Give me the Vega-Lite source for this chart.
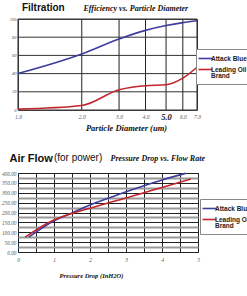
{
  "$schema": "https://vega.github.io/schema/vega-lite/v6.json",
  "background": "white",
  "padding": {"left": 0, "top": 2, "right": 0, "bottom": 0},
  "spacing": 20,
  "title": {"text": "Filtration", "anchor": "start", "font": "Liberation Sans", "fontWeight": "bold", "fontSize": 10, "color": "#111", "dx": 21, "offset": -9},
  "config": {
    "view": {"stroke": "#444", "strokeWidth": 1},
    "axis": {"grid": true, "gridColor": "#222", "gridOpacity": 1, "gridWidth": 1, "domain": false, "ticks": false, "tickSize": 0, "labelColor": "#555", "labelFont": "Liberation Serif", "labelFontStyle": "italic", "titleFont": "Liberation Serif", "titleFontStyle": "italic", "titleFontWeight": "bold", "titleColor": "#111"},
    "legend": {"title": null, "orient": "none", "symbolType": "M-2,0H2", "symbolSize": 49, "symbolStrokeWidth": 1.6, "labelFont": "Liberation Sans", "labelFontWeight": "bold", "labelFontSize": 6.5, "labelColor": "#222", "labelBaseline": "middle", "strokeColor": "#888", "fillColor": "white", "padding": 5, "rowPadding": 3, "labelOffset": 1},
    "style": {"guide-label": {"lineHeight": 6}}
  },
  "resolve": {"scale": {"color": "independent"}},
  "vconcat": [
    {
      "width": 179,
      "height": 91,
      "layer": [
        {
          "data": {"values": [{"diameter": 1}, {"diameter": 2}, {"diameter": 3}, {"diameter": 4}, {"diameter": 5}, {"diameter": 6}, {"diameter": 7}]},
          "mark": {"type": "rule", "color": "#222", "strokeWidth": 1},
          "encoding": {
            "x": {"field": "diameter", "type": "quantitative",
              "scale": {"type": "log", "domain": [1, 7], "nice": false},
              "axis": {"grid": false, "ticks": false, "domain": false, "values": [1, 2, 3, 4, 5, 6, 7], "format": ".1f", "labelPadding": 6, "labelBaseline": "middle", "labelFontSize": {"condition": {"test": "datum.value == 5", "value": 8.5}, "value": 5.5}, "labelFontWeight": {"condition": {"test": "datum.value == 5", "value": "bold"}, "value": "normal"}, "labelColor": {"condition": {"test": "datum.value == 5", "value": "#111"}, "value": "#555"}, "labelFlush": false, "title": "Particle Diameter (um)", "titleFontSize": 8.5, "titleX": 108, "titleY": 20, "titleAlign": "center", "titleBaseline": "alphabetic"}}
          }
        },
        {
          "data": {"values": [{"efficiency": 0}, {"efficiency": 20}, {"efficiency": 40}, {"efficiency": 60}, {"efficiency": 80}, {"efficiency": 100}]},
          "mark": {"type": "rule", "color": "#333", "strokeWidth": 1},
          "encoding": {
            "y": {"field": "efficiency", "type": "quantitative",
              "scale": {"domain": [0, 100], "nice": false},
              "axis": {"grid": false, "ticks": false, "domain": false, "values": [0, 20, 40, 60, 80, 100], "format": "d", "labelFontSize": 4.5, "labelPadding": 2,
                "title": "Efficiency vs. Particle Diameter", "titleAngle": 0, "titleFontSize": 8, "titleX": 65, "titleY": -9, "titleAlign": "left", "titleBaseline": "alphabetic"}}
          }
        },
        {
          "data": {"values": [
            {"diameter": 1, "efficiency": 40, "brand": "Attack Blue"},
            {"diameter": 2, "efficiency": 61.5, "brand": "Attack Blue"},
            {"diameter": 3, "efficiency": 78, "brand": "Attack Blue"},
            {"diameter": 4, "efficiency": 87.5, "brand": "Attack Blue"},
            {"diameter": 5, "efficiency": 92.8, "brand": "Attack Blue"},
            {"diameter": 6, "efficiency": 96, "brand": "Attack Blue"},
            {"diameter": 7, "efficiency": 98, "brand": "Attack Blue"},
            {"diameter": 1, "efficiency": 1, "brand": "Leading Oil Brand"},
            {"diameter": 2, "efficiency": 5, "brand": "Leading Oil Brand"},
            {"diameter": 3, "efficiency": 22.3, "brand": "Leading Oil Brand"},
            {"diameter": 4, "efficiency": 26.7, "brand": "Leading Oil Brand"},
            {"diameter": 5, "efficiency": 27.8, "brand": "Leading Oil Brand"},
            {"diameter": 6, "efficiency": 35, "brand": "Leading Oil Brand"},
            {"diameter": 7, "efficiency": 47, "brand": "Leading Oil Brand"}
          ]},
          "mark": {"type": "line", "interpolate": "monotone", "strokeWidth": 1.6},
          "encoding": {
            "x": {"field": "diameter", "type": "quantitative",
              "scale": {"type": "log", "domain": [1, 7], "nice": false},
              "axis": {"grid": false, "ticks": false, "domain": false, "values": [1, 2, 3, 4, 5, 6, 7], "format": ".1f", "labelPadding": 6, "labelBaseline": "middle", "labelFontSize": {"condition": {"test": "datum.value == 5", "value": 8.5}, "value": 5.5}, "labelFontWeight": {"condition": {"test": "datum.value == 5", "value": "bold"}, "value": "normal"}, "labelColor": {"condition": {"test": "datum.value == 5", "value": "#111"}, "value": "#555"}, "labelFlush": false, "title": "Particle Diameter (um)", "titleFontSize": 8.5, "titleX": 108, "titleY": 20, "titleAlign": "center", "titleBaseline": "alphabetic"}},
            "y": {"field": "efficiency", "type": "quantitative",
              "scale": {"domain": [0, 100], "nice": false},
              "axis": {"grid": false, "ticks": false, "domain": false, "values": [0, 20, 40, 60, 80, 100], "format": "d", "labelFontSize": 4.5, "labelPadding": 2,
                "title": "Efficiency vs. Particle Diameter", "titleAngle": 0, "titleFontSize": 8, "titleX": 65, "titleY": -9, "titleAlign": "left", "titleBaseline": "alphabetic"}},
            "color": {"field": "brand", "type": "nominal",
              "scale": {"domain": ["Attack Blue", "Leading Oil Brand"], "range": ["#3d3d9e", "#c3252c"]},
              "legend": {"legendX": 178, "legendY": 30, "labelExpr": "datum.label == 'Leading Oil Brand' ? ['Leading Oil', 'Brand'] : datum.label"}}
          }
        }
      ]
    },
    {
      "width": 180,
      "height": 79,
      "title": {"text": "Air Flow", "subtitle": "\u200b\u00a0\u00a0\u00a0\u00a0\u00a0\u00a0\u00a0\u00a0\u00a0\u00a0\u00a0\u00a0\u00a0\u00a0\u00a0\u00a0(for power)", "anchor": "start", "font": "Liberation Sans", "fontWeight": "bold", "color": "#111", "fontSize": 11, "subtitleFont": "Liberation Sans", "subtitleFontSize": 10, "subtitleColor": "#111", "subtitlePadding": -11, "dx": 8, "offset": -10},
      "data": {"values": [
        {"pressure": 0.3, "flow": 75, "brand": "Attack Blue"},
        {"pressure": 1.0, "flow": 158, "brand": "Attack Blue"},
        {"pressure": 1.5, "flow": 198, "brand": "Attack Blue"},
        {"pressure": 2.0, "flow": 238, "brand": "Attack Blue"},
        {"pressure": 2.5, "flow": 272, "brand": "Attack Blue"},
        {"pressure": 3.0, "flow": 305, "brand": "Attack Blue"},
        {"pressure": 3.5, "flow": 336, "brand": "Attack Blue"},
        {"pressure": 4.0, "flow": 365, "brand": "Attack Blue"},
        {"pressure": 4.65, "flow": 398, "brand": "Attack Blue"},
        {"pressure": 0.2, "flow": 75, "brand": "Leading Oil Brand"},
        {"pressure": 0.95, "flow": 158, "brand": "Leading Oil Brand"},
        {"pressure": 1.5, "flow": 195, "brand": "Leading Oil Brand"},
        {"pressure": 2.0, "flow": 222, "brand": "Leading Oil Brand"},
        {"pressure": 2.5, "flow": 248, "brand": "Leading Oil Brand"},
        {"pressure": 3.0, "flow": 273, "brand": "Leading Oil Brand"},
        {"pressure": 3.5, "flow": 300, "brand": "Leading Oil Brand"},
        {"pressure": 4.0, "flow": 327, "brand": "Leading Oil Brand"},
        {"pressure": 4.8, "flow": 370, "brand": "Leading Oil Brand"}
      ]},
      "mark": {"type": "line", "interpolate": "monotone", "strokeWidth": 1.6},
      "encoding": {
        "x": {"field": "pressure", "type": "quantitative",
          "scale": {"domain": [0, 5], "nice": false},
          "axis": {"values": [0, 0.5, 1, 1.5, 2, 2.5, 3, 3.5, 4, 4.5, 5], "labelExpr": "datum.value % 1 == 0 ? format(datum.value, 'd') : ''", "labelFontSize": 5.5, "labelPadding": 5, "labelFlush": false, "title": "Pressure Drop (InH2O)", "titleFontSize": 6.5, "titleX": 73, "titleY": 25, "titleAlign": "center", "titleBaseline": "alphabetic"}},
        "y": {"field": "flow", "type": "quantitative",
          "scale": {"domain": [0, 400], "nice": false},
          "axis": {"values": [0, 25, 50, 75, 100, 125, 150, 175, 200, 225, 250, 275, 300, 325, 350, 375, 400], "format": ".2f", "labelFontSize": 5.3, "labelPadding": 2,
            "gridColor": {"condition": {"test": "datum.value % 50 == 0", "value": "#222"}, "value": "#999"},
            "gridWidth": {"condition": {"test": "datum.value % 50 == 0", "value": 1}, "value": 2},
            "title": "Pressure Drop vs. Flow Rate", "titleAngle": 0, "titleFontSize": 8, "titleX": 92, "titleY": -13, "titleAlign": "left", "titleBaseline": "alphabetic"}},
        "color": {"field": "brand", "type": "nominal",
          "scale": {"domain": ["Attack Blue", "Leading Oil Brand"], "range": ["#3d3d9e", "#c3252c"]},
          "legend": {"legendX": 182, "legendY": 26, "labelExpr": "datum.label == 'Leading Oil Brand' ? ['Leading Oil', 'Brand'] : datum.label"}}
      }
    }
  ]
}
